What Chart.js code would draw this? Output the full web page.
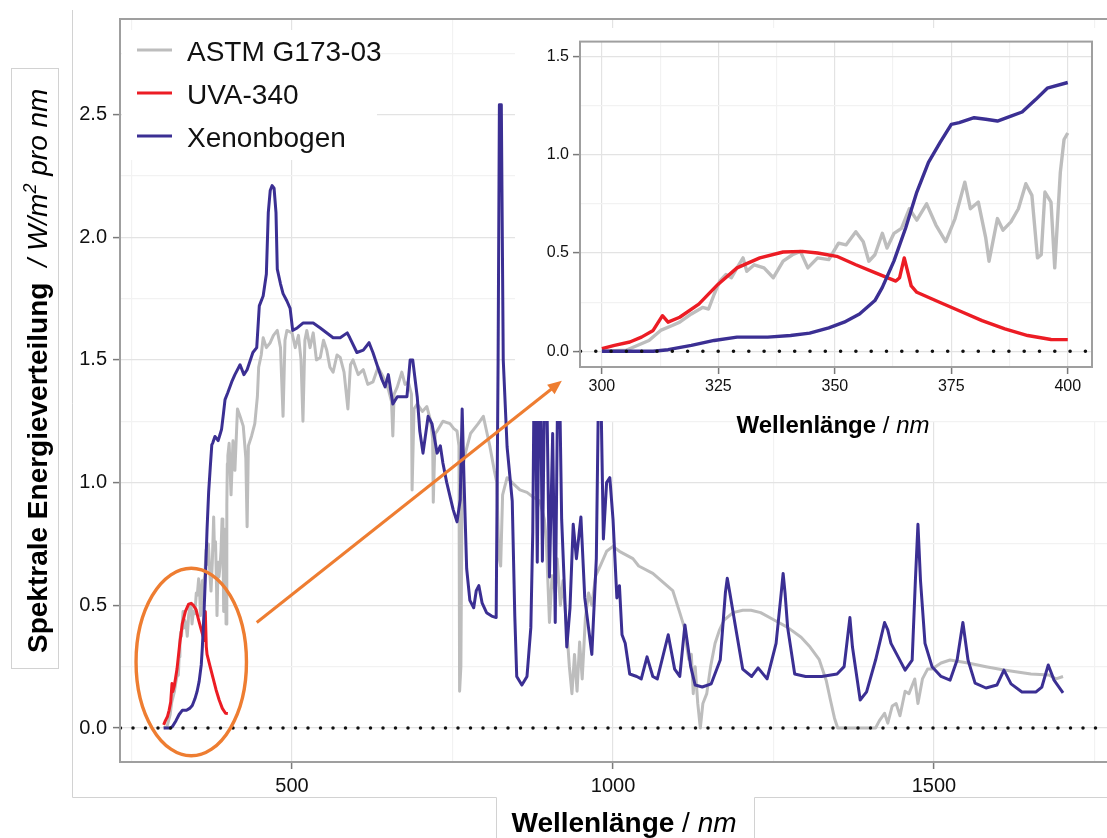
<!DOCTYPE html>
<html lang="de">
<head>
<meta charset="utf-8">
<title>Spektrale Energieverteilung</title>
<script src="https://cdn.jsdelivr.net/npm/chart.js@4.4.1/dist/chart.umd.min.js"></script>
<style>
  html, body { margin: 0; padding: 0; background: #fff; }
  #wrap { position: relative; width: 1107px; height: 838px; overflow: hidden; }
  canvas { position: absolute; }
  #mainChart { left: 0; top: 0; }
  #insetChart { left: 515px; top: 28px; }
  #overlay { left: 0; top: 0; pointer-events: none; }
</style>
</head>
<body>
<div id="wrap">
  <canvas id="mainChart" width="1107" height="838"></canvas>
  <canvas id="insetChart" width="592" height="417"></canvas>
  <canvas id="overlay" width="1107" height="838"></canvas>
</div>
<script>
// ---- data ----
var seriesNames = ['ASTM G173-03', 'UVA-340', 'Xenonbogen'];

var astmNm = [300, 305.2, 310.1, 312.6, 315.1, 316.7, 319.2, 321.6, 322.9, 324.1, 325.3, 326.6, 327.8, 329, 330.3,
  331.1, 332.7, 334.8, 336.8, 338.9, 340.9, 342.6, 344.2, 346.3, 348.7, 350.8, 352.4, 354.5, 356.1, 357.3, 358.6,
  360.2, 361.2, 362.7, 364.3, 366, 367.6, 369.7, 371.7, 373.8, 375.8, 377.9, 379.1, 380.8, 382.4, 383.1, 384.9,
  386.1, 387.8, 389.4, 391, 392.3, 393.5, 394.3, 395.1, 396.4, 397.2, 398.4, 399.2, 400,
  402, 405, 408, 411, 415, 419, 424, 428, 430, 432, 437, 442, 446, 448, 452, 455, 460, 466, 471, 477, 482, 486,
  489, 492, 500, 505, 510, 514, 517, 520, 523, 528, 533, 538, 544, 549, 554, 559, 564, 570, 575, 581, 587, 591,
  595, 603, 611, 618, 626, 634, 642, 650, 655, 657, 659, 664, 671, 676, 681, 686, 687, 690, 695, 703, 710, 716,
  719, 720, 723, 726, 735, 746, 752, 757, 760, 761, 763, 765, 770, 778, 790, 798, 808, 815, 819, 822, 825, 828,
  835, 847, 855, 866, 876, 886, 893, 896, 901, 905, 910, 913, 918, 922, 928, 932, 936, 940, 944, 948, 952, 957,
  962, 967, 973, 980, 990, 1000, 1010, 1031, 1040, 1062, 1084, 1093, 1104, 1111, 1115, 1118, 1122, 1125, 1128,
  1132, 1136, 1140, 1146, 1152, 1159, 1166, 1173, 1187, 1202, 1215, 1230, 1251, 1272, 1293, 1307, 1321, 1332,
  1339, 1345, 1350, 1409, 1415, 1423, 1428, 1435, 1441, 1447, 1455, 1461, 1470, 1475, 1482, 1490, 1497, 1511,
  1525, 1553, 1581, 1609, 1651, 1679, 1690, 1701];
var astmVal = [0, 0.005, 0.055, 0.106, 0.131, 0.148, 0.19, 0.223, 0.215, 0.29, 0.357, 0.39, 0.374, 0.424, 0.475,
  0.407, 0.44, 0.424, 0.374, 0.458, 0.491, 0.508, 0.424, 0.475, 0.466, 0.55, 0.541, 0.608, 0.557, 0.458, 0.491,
  0.6, 0.525, 0.6, 0.625, 0.725, 0.667, 0.75, 0.642, 0.558, 0.675, 0.86, 0.725, 0.759, 0.575, 0.458, 0.675,
  0.616, 0.658, 0.725, 0.852, 0.793, 0.475, 0.491, 0.81, 0.759, 0.424, 0.91, 1.077, 1.11,
  1.16, 0.95, 1.17, 1.05, 1.3, 1.27, 1.23, 1.1, 0.82, 1.15, 1.19, 1.24, 1.35, 1.47, 1.52, 1.59, 1.55, 1.57, 1.6,
  1.62, 1.55, 1.27, 1.58, 1.62, 1.61, 1.55, 1.6, 1.5, 1.25, 1.58, 1.62, 1.55, 1.61, 1.5, 1.51, 1.58, 1.54, 1.47,
  1.45, 1.52, 1.51, 1.45, 1.3, 1.48, 1.5, 1.44, 1.46, 1.4, 1.41, 1.47, 1.43, 1.38, 1.33, 1.19, 1.36, 1.39, 1.45,
  1.4, 1.41, 1.36, 0.97, 1.3, 1.32, 1.29, 1.31, 1.25, 1.18, 0.92, 1.2, 1.21, 1.25, 1.24, 1.22, 1.21, 1.15, 0.15,
  0.25, 1.05, 1.12, 1.2, 1.24, 1.27, 1.15, 1.05, 1.0, 0.7, 0.66, 0.95, 1.02, 0.99, 0.97, 0.96, 0.94, 0.925, 0.85,
  0.77, 0.43, 0.62, 0.55, 0.69, 0.5, 0.6, 0.4, 0.25, 0.14, 0.3, 0.15, 0.35, 0.2, 0.45, 0.55, 0.5, 0.62, 0.66,
  0.72, 0.74, 0.72, 0.69, 0.66, 0.63, 0.58, 0.56, 0.47, 0.41, 0.33, 0.28, 0.3, 0.14, 0.25, 0.1, 0.0, 0.1, 0.14,
  0.25, 0.345, 0.4, 0.44, 0.47, 0.48, 0.48, 0.47, 0.44, 0.41, 0.37, 0.33, 0.28, 0.195, 0.11, 0.04, 0.0, 0.0,
  0.03, 0.06, 0.02, 0.09, 0.1, 0.05, 0.15, 0.14, 0.2, 0.1, 0.2, 0.24, 0.24, 0.265, 0.277, 0.265, 0.25, 0.236,
  0.22, 0.216, 0.2, 0.21];

var uvaNm = [300, 302.7, 306, 308.5, 311, 313, 314.2, 316.7, 320.8, 324.9, 329, 333.9, 338.9, 343, 346.3, 350.4,
  354.5, 358.6, 363.1, 363.9, 364.9, 366.4, 367.6, 372.6, 376.7, 381.6, 386.5, 391.4, 396.4, 400];
var uvaVal = [0.013, 0.03, 0.047, 0.072, 0.106, 0.181, 0.148, 0.173, 0.24, 0.34, 0.424, 0.475, 0.505, 0.508, 0.5,
  0.483, 0.44, 0.4, 0.357, 0.374, 0.475, 0.332, 0.3, 0.248, 0.206, 0.156, 0.114, 0.08, 0.06, 0.059];

var xenonNm = [300, 311, 314.2, 319.2, 324.1, 329, 335.6, 340.5, 344.6, 348.7, 352, 355.3, 358.6, 360.2, 362.7,
  365.2, 367.6, 370.1, 372.6, 375, 376.7, 379.9, 382.4, 384.9, 387.8, 390.2, 393.1, 395.6, 400,
  406, 411, 419, 425, 430, 439, 445, 449, 455, 460, 463, 466, 469, 472, 475, 477, 482, 486, 492, 497, 501, 508,
  517, 533, 544, 564, 575, 586, 590, 601, 611, 620, 626, 640, 645, 650, 657, 664, 679, 684, 688, 695, 699, 704,
  712, 718, 726, 731, 735, 741, 751, 757, 762, 765, 768, 772, 777, 783, 787, 791, 796, 803, 811, 818, 821, 823,
  826, 829, 835, 843, 847, 850, 858, 866, 872, 875, 878, 882, 886, 890, 895, 901, 906, 910, 915, 920, 928, 933,
  938, 943, 950, 956, 967, 974, 979, 985, 990, 995, 1000, 1006, 1010, 1014, 1019, 1026, 1037, 1044, 1053, 1062,
  1069, 1086, 1096, 1104, 1112, 1121, 1128, 1139, 1153, 1167, 1175, 1178, 1182, 1191, 1202, 1216, 1226, 1240,
  1254, 1262, 1265, 1268, 1272, 1283, 1300, 1325, 1349, 1360, 1369, 1373, 1385, 1395, 1409, 1423, 1428, 1433,
  1441, 1455, 1466, 1471, 1475, 1479, 1486, 1497, 1511, 1525, 1536, 1545, 1553, 1564, 1581, 1598, 1609, 1620,
  1637, 1659, 1668, 1678, 1687, 1701];
var xenonVal = [0, 0, 0.008, 0.03, 0.055, 0.072, 0.072, 0.08, 0.092, 0.119, 0.148, 0.19, 0.258, 0.325, 0.46,
  0.627, 0.81, 0.961, 1.062, 1.154, 1.163, 1.188, 1.18, 1.171, 1.196, 1.217, 1.28, 1.338, 1.367,
  1.41, 1.44, 1.48, 1.44, 1.46, 1.53, 1.55, 1.72, 1.76, 1.85, 2.1, 2.19, 2.21, 2.2, 2.1, 1.87, 1.81, 1.77, 1.74,
  1.71, 1.62, 1.63, 1.65, 1.65, 1.63, 1.59, 1.59, 1.61, 1.59, 1.53, 1.54, 1.57, 1.53, 1.42, 1.39, 1.44, 1.32,
  1.35, 1.35, 1.5, 1.5, 1.35, 1.21, 1.12, 1.27, 1.24, 1.12, 1.15, 1.08, 1.0, 0.89, 0.84, 0.93, 1.3, 1.0, 0.65,
  0.52, 0.49, 0.56, 0.58, 0.51, 0.47, 0.456, 0.45, 1.5, 2.54, 2.54, 1.5, 1.145, 0.925, 0.456, 0.21, 0.175, 0.21,
  0.41, 0.8, 1.7, 0.675, 1.7, 0.68, 1.7, 0.615, 1.2, 0.43, 1.7, 0.85, 0.33, 0.49, 0.83, 0.69, 0.86, 0.53, 0.3,
  0.69, 1.7, 0.77, 1.0, 1.02, 0.85, 0.53, 0.58, 0.38, 0.345, 0.22, 0.21, 0.2, 0.29, 0.21, 0.2, 0.38, 0.24, 0.21,
  0.42, 0.25, 0.175, 0.167, 0.18, 0.277, 0.55, 0.61, 0.55, 0.41, 0.24, 0.21, 0.245, 0.2, 0.345, 0.55, 0.63, 0.55,
  0.41, 0.22, 0.21, 0.21, 0.22, 0.25, 0.45, 0.33, 0.114, 0.147, 0.277, 0.43, 0.4, 0.345, 0.305, 0.236, 0.277,
  0.6, 0.83, 0.6, 0.345, 0.25, 0.21, 0.195, 0.277, 0.43, 0.277, 0.183, 0.163, 0.175, 0.236, 0.18, 0.147, 0.147,
  0.167, 0.257, 0.195, 0.143];

var mainXTicks = [250, 500, 750, 1000, 1250, 1500, 1750];
var mainYTicks = [0, 0.25, 0.5, 0.75, 1, 1.25, 1.5, 1.75, 2, 2.25, 2.5, 2.75];
var insetXTicks = [300, 312.5, 325, 337.5, 350, 362.5, 375, 387.5, 400];
var insetYTicks = [0, 0.25, 0.5, 0.75, 1, 1.25, 1.5];

// ---- style ----
var FONT = '"Liberation Sans", Arial, Helvetica, sans-serif';
var seriesColors = ['#bdbdbd', '#ec1c24', '#3b2f93'];
var ORANGE = '#ee7d31';
var BORDER = '#9f9f9f';

Chart.defaults.font.family = FONT;
Chart.defaults.color = '#111';

function pts(xs, ys, maxX) {
  var out = [];
  xs.forEach(function (x, i) { if (maxX === undefined || x <= maxX) out.push({x: x, y: ys[i]}); });
  return out;
}

function datasets(width, maxX) {
  return [
    {label: seriesNames[0], data: pts(astmNm, astmVal, maxX), borderColor: seriesColors[0], borderWidth: width, order: 3},
    {label: seriesNames[1], data: pts(uvaNm, uvaVal, maxX), borderColor: seriesColors[1], borderWidth: width, order: 2},
    {label: seriesNames[2], data: pts(xenonNm, xenonVal, maxX), borderColor: seriesColors[2], borderWidth: width, order: 1}
  ];
}

function isMajor(v, step) { return Math.abs(v / step - Math.round(v / step)) < 1e-6; }

function axis(cfg) {
  return {
    type: 'linear', min: cfg.min, max: cfg.max,
    afterBuildTicks: function (s) { s.ticks = cfg.ticks.map(function (v) { return {value: v}; }); },
    afterFit: function (s) {
      if (cfg.width) s.width = cfg.width;
      if (cfg.height) s.height = cfg.height;
    },
    ticks: {
      autoSkip: false, maxRotation: 0, padding: cfg.pad, color: '#111',
      font: {family: FONT, size: cfg.fontSize},
      callback: function (v) { return isMajor(v, cfg.major) ? cfg.fmt(v) : ''; }
    },
    grid: {
      color: function (c) { return c.tick && isMajor(c.tick.value, cfg.major) ? '#e3e3e3' : '#f2f2f2'; },
      tickColor: function (c) { return c.tick && isMajor(c.tick.value, cfg.major) ? '#7a7a7a' : 'rgba(0,0,0,0)'; },
      lineWidth: 1.2, tickLength: 7, tickWidth: 1.5
    },
    border: {display: false}
  };
}

function dottedZero(chart, gap, width) {
  var ctx = chart.ctx, a = chart.chartArea, y0 = chart.scales.y.getPixelForValue(0);
  ctx.save();
  ctx.strokeStyle = '#111';
  ctx.lineWidth = width;
  ctx.lineCap = 'round';
  ctx.setLineDash([0, gap]);
  ctx.beginPath();
  ctx.moveTo(a.left + 0.5, y0);
  ctx.lineTo(a.right, y0);
  ctx.stroke();
  ctx.restore();
}

function runs(ctx, parts, x, y) {
  parts.forEach(function (p) {
    ctx.font = p.font;
    ctx.fillText(p.text, x, y + (p.dy || 0));
    x += ctx.measureText(p.text).width + (p.gap || 0);
  });
  return x;
}

function runsWidth(ctx, parts) {
  var w = 0;
  parts.forEach(function (p) { ctx.font = p.font; w += ctx.measureText(p.text).width + (p.gap || 0); });
  return w;
}

function titleParts(size) {
  return [
    {text: 'Wellenlänge', font: 'bold ' + size + 'px ' + FONT},
    {text: ' / ', font: size + 'px ' + FONT},
    {text: 'nm', font: 'italic ' + size + 'px ' + FONT}
  ];
}

// ---- main chart ----
var mainDecor = {
  id: 'mainDecor',
  afterDatasetsDraw: function (chart) {
    var ctx = chart.ctx, a = chart.chartArea;
    dottedZero(chart, 12.5, 3.5);
    ctx.save();
    ctx.strokeStyle = BORDER;
    ctx.lineWidth = 2;
    ctx.beginPath();
    ctx.moveTo(a.right, a.top); ctx.lineTo(a.left, a.top);
    ctx.lineTo(a.left, a.bottom); ctx.lineTo(a.right, a.bottom);
    ctx.stroke();
    ctx.restore();
  },
  afterDraw: function (chart) {
    var ctx = chart.ctx, a = chart.chartArea;
    ctx.save();
    ctx.fillStyle = '#fff';
    ctx.fillRect(a.left + 2, a.top + 11, 255, 130);
    chart.data.datasets.forEach(function (ds, i) {
      var y = a.top + 31 + i * 43;
      ctx.strokeStyle = ds.borderColor;
      ctx.lineWidth = 3;
      ctx.beginPath(); ctx.moveTo(a.left + 17, y); ctx.lineTo(a.left + 52, y); ctx.stroke();
      ctx.fillStyle = '#111';
      ctx.font = '28px ' + FONT;
      ctx.textBaseline = 'middle';
      ctx.fillText(ds.label, a.left + 67, y + 3);
    });
    ctx.restore();
  }
};

var mainChart = new Chart(document.getElementById('mainChart'), {
  type: 'line',
  data: {datasets: datasets(3)},
  options: {
    responsive: false, animation: false,
    layout: {padding: {left: 72, top: 19, right: 0, bottom: 0}},
    elements: {point: {radius: 0}, line: {tension: 0, fill: false, borderJoinStyle: 'round'}},
    plugins: {legend: {display: false}, tooltip: {enabled: false}},
    scales: {
      x: axis({min: 232, max: 1769.5, ticks: mainXTicks, major: 500, fmt: String, fontSize: 20, pad: 5, height: 76}),
      y: axis({min: -0.1385, max: 2.889, ticks: mainYTicks, major: 0.5, fmt: function (v) { return v.toFixed(1); },
        fontSize: 20, pad: 6, width: 48})
    }
  },
  plugins: [mainDecor]
});

// ---- inset (300-400 nm) ----
var insetDecor = {
  id: 'insetDecor',
  beforeDraw: function (chart) {
    chart.ctx.save();
    chart.ctx.fillStyle = '#fff';
    chart.ctx.fillRect(0, 0, chart.width, 393);
    chart.ctx.restore();
  },
  afterDatasetsDraw: function (chart) {
    var ctx = chart.ctx, a = chart.chartArea;
    dottedZero(chart, 15.3, 3.6);
    ctx.save();
    ctx.strokeStyle = BORDER;
    ctx.lineWidth = 2;
    ctx.strokeRect(a.left, a.top, a.right - a.left, a.bottom - a.top);
    ctx.restore();
  },
  afterDraw: function (chart) {
    var ctx = chart.ctx, parts = titleParts(24);
    ctx.save();
    ctx.fillStyle = '#000';
    ctx.textBaseline = 'alphabetic';
    var w = runsWidth(ctx, parts);
    runs(ctx, parts, 318 - w / 2, 405);
    ctx.restore();
  }
};

var insetChart = new Chart(document.getElementById('insetChart'), {
  type: 'line',
  data: {datasets: datasets(3.4, 400)},
  options: {
    responsive: false, animation: false,
    layout: {padding: {left: 0, top: 10, right: 15, bottom: 0}},
    elements: {point: {radius: 0}, line: {tension: 0, fill: false, borderJoinStyle: 'round'}},
    plugins: {legend: {display: false}, tooltip: {enabled: false}},
    scales: {
      x: axis({min: 295.3, max: 405.2, ticks: insetXTicks, major: 25, fmt: String, fontSize: 16, pad: 3, height: 78}),
      y: axis({min: -0.08, max: 1.575, ticks: insetYTicks, major: 0.5, fmt: function (v) { return v.toFixed(1); },
        fontSize: 16, pad: 4, width: 65})
    }
  },
  plugins: [insetDecor]
});

// ---- overlay: frame, axis titles, ellipse and arrow ----
(function () {
  var ov = document.getElementById('overlay').getContext('2d');
  var mx = mainChart.scales.x, my = mainChart.scales.y;
  var ix = insetChart.scales.x, iy = insetChart.scales.y;
  var insetBox = document.getElementById('insetChart');
  var offX = insetBox.offsetLeft, offY = insetBox.offsetTop;

  ov.strokeStyle = '#d2d2d2';
  ov.lineWidth = 1;
  ov.beginPath();
  ov.moveTo(72.5, 10); ov.lineTo(72.5, 797.5); ov.lineTo(496.5, 797.5); ov.lineTo(496.5, 838);
  ov.moveTo(754.5, 838); ov.lineTo(754.5, 797.5); ov.lineTo(1107, 797.5);
  ov.stroke();

  // y title
  ov.fillStyle = '#fff';
  ov.fillRect(11, 68, 48, 601);
  ov.strokeRect(11.5, 68.5, 47, 600);
  ov.save();
  ov.translate(47, 653);
  ov.rotate(-Math.PI / 2);
  ov.fillStyle = '#000';
  ov.textBaseline = 'alphabetic';
  runs(ov, [
    {text: 'Spektrale Energieverteilung', font: 'bold 28px ' + FONT, gap: 16},
    {text: '/ W/m', font: 'italic 28px ' + FONT},
    {text: '2', font: 'italic 18px ' + FONT, dy: -11},
    {text: ' pro nm', font: 'italic 28px ' + FONT}
  ], 0, 0);
  ov.restore();

  // x title
  ov.fillStyle = '#000';
  ov.textBaseline = 'alphabetic';
  var xp = titleParts(28);
  runs(ov, xp, 624 - runsWidth(ov, xp) / 2, 832);

  // ellipse around the 300-400 nm region
  var cx = mx.getPixelForValue(343), cy = my.getPixelForValue(0.269);
  var rx = mx.getPixelForValue(343 + 86) - cx, ry = cy - my.getPixelForValue(0.269 + 0.382);
  ov.strokeStyle = ORANGE;
  ov.lineWidth = 3.4;
  ov.beginPath();
  ov.ellipse(cx, cy, rx, ry, 0, 0, Math.PI * 2);
  ov.stroke();

  // arrow to the inset
  var x1 = mx.getPixelForValue(445), y1 = my.getPixelForValue(0.43);
  var x2 = offX + ix.getPixelForValue(291.4), y2 = offY + iy.getPixelForValue(-0.15);
  var ang = Math.atan2(y2 - y1, x2 - x1), head = 14;
  ov.lineWidth = 3;
  ov.beginPath();
  ov.moveTo(x1, y1);
  ov.lineTo(x2 - Math.cos(ang) * head * 0.8, y2 - Math.sin(ang) * head * 0.8);
  ov.stroke();
  ov.fillStyle = ORANGE;
  ov.beginPath();
  ov.moveTo(x2, y2);
  ov.lineTo(x2 - head * Math.cos(ang) + 6 * Math.sin(ang), y2 - head * Math.sin(ang) - 6 * Math.cos(ang));
  ov.lineTo(x2 - head * Math.cos(ang) - 6 * Math.sin(ang), y2 - head * Math.sin(ang) + 6 * Math.cos(ang));
  ov.closePath();
  ov.fill();
})();
</script>
</body>
</html>
